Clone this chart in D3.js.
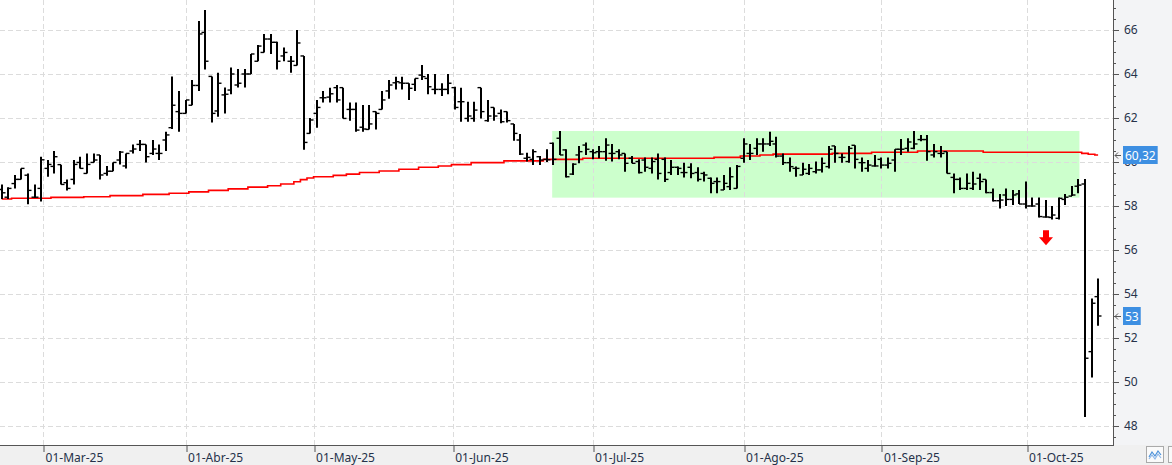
<!DOCTYPE html>
<html lang="en">
<head>
    <meta charset="UTF-8">
    <title>OHLC with moving average</title>
    <script src="https://d3js.org/d3.v7.min.js"></script>
    <style>
        body { margin: 0; background: #fff; }
        text { font-family: "Noto Sans", "DejaVu Sans", sans-serif; }
    </style>
</head>
<body>
    <svg width="1172" height="465"></svg>
    <script>
        const width = 1172, height = 465;
        const plotRight = 1113, plotBottom = 445;

        // daily bars (Feb-21-25 .. mid Oct-25)
        const open = [
            58.75, 58.4, 59.02, 59.21, 59.4, 58.4, 58.8, 59.71, 59.8, 59.88,
            59.06, 59.21, 59.98, 59.48, 59.98, 60.32, 59.48, 59.58, 60.09, 59.82,
            60.5, 60.8, 60.8, 60.39, 60.39, 61.0, 61.56, 62.29, 62.21, 62.58,
            63.48, 65.89, 63.89, 62.32, 63.05, 63.27, 63.5, 64.0, 64.0, 64.58,
            64.98, 65.59, 65.44, 64.82, 64.58, 64.39, 64.82, 61.3, 62.21, 62.92,
            62.95, 63.38, 63.38, 62.39, 62.39, 61.58, 61.48, 62.29, 62.39, 63.23,
            63.6, 63.6, 63.58, 63.53, 63.95, 63.8, 63.3, 63.3, 63.3, 63.38,
            62.74, 61.98, 61.98, 63.38, 61.88, 62.48, 62.21, 62.29, 61.73, 61.0,
            60.17, 60.12, 60.24, 60.12, 60.85, 61.08, 60.55, 59.45, 60.32, 60.77,
            60.47, 60.47, 60.47, 60.39, 60.47, 60.39, 60.17, 60.02, 60.09, 59.71,
            60.12, 60.12, 59.52, 59.76, 59.52, 59.76, 59.52, 59.48, 59.26, 59.11,
            58.73, 58.88, 58.8, 60.17, 60.39, 60.62, 60.82, 60.82, 60.82, 60.27,
            59.97, 59.71, 59.41, 59.48, 59.56, 59.64, 59.79, 60.73, 60.21, 60.02,
            60.76, 59.97, 59.71, 59.82, 60.12, 59.86, 60.09, 60.58, 60.62, 60.62,
            61.02, 61.02, 60.32, 60.39, 60.47, 59.3, 59.21, 58.8, 58.8, 59.26,
            59.21, 58.61, 58.24, 58.5, 58.3, 58.55, 58.09, 58.0, 58.09, 57.5,
            57.48, 57.44, 58.3, 58.45, 58.9, 59.0, 51.38, 53.88
        ];
        const high = [
            58.98, 58.85, 59.41, 59.71, 59.48, 58.98, 60.24, 60.09, 60.5, 59.88,
            59.21, 60.09, 60.24, 60.39, 60.39, 60.32, 59.82, 59.98, 60.5, 60.39,
            60.8, 61.0, 60.8, 61.0, 60.8, 61.38, 63.89, 63.23, 62.82, 63.73,
            66.41, 66.91, 63.89, 64.06, 63.39, 64.29, 64.23, 64.23, 64.91, 65.32,
            65.82, 65.82, 65.47, 65.21, 64.82, 66.0, 64.82, 62.0, 62.82, 63.23,
            63.38, 63.5, 63.38, 62.71, 62.71, 62.59, 62.59, 62.29, 63.23, 63.73,
            63.88, 63.88, 63.58, 63.8, 64.41, 64.0, 64.0, 63.58, 64.0, 63.42,
            63.38, 62.74, 62.74, 63.38, 62.82, 62.48, 62.39, 62.29, 61.73, 61.27,
            60.42, 60.58, 60.27, 60.58, 60.89, 61.41, 60.58, 59.94, 60.73, 60.89,
            60.58, 60.73, 61.08, 60.82, 60.58, 60.39, 60.27, 60.12, 60.21, 60.21,
            60.39, 60.21, 60.09, 59.79, 59.97, 59.94, 59.76, 59.56, 59.3, 59.3,
            59.41, 59.76, 59.86, 61.08, 60.82, 61.08, 61.08, 61.38, 61.15, 60.39,
            60.21, 59.79, 59.97, 59.91, 60.02, 60.21, 60.73, 60.73, 60.39, 60.73,
            60.76, 60.21, 60.09, 60.32, 60.21, 60.21, 60.58, 61.05, 61.08, 61.41,
            61.23, 61.23, 60.82, 60.73, 60.47, 59.48, 59.3, 59.48, 59.56, 59.48,
            59.21, 58.8, 58.55, 58.8, 58.73, 58.73, 59.11, 58.39, 58.39, 58.27,
            58.0, 58.39, 58.55, 58.91, 59.23, 59.23, 53.8, 54.71
        ];
        const low = [
            58.32, 58.32, 58.8, 59.21, 58.08, 58.38, 58.21, 59.33, 59.48, 58.98,
            58.71, 58.98, 59.71, 59.48, 59.98, 59.21, 59.38, 59.58, 59.89, 59.71,
            60.39, 60.5, 59.98, 60.32, 60.09, 60.5, 61.5, 61.38, 62.21, 62.58,
            63.23, 64.2, 61.79, 62.06, 62.21, 63.08, 63.39, 63.39, 64.0, 64.58,
            64.98, 64.91, 64.2, 64.58, 64.06, 64.39, 60.56, 61.3, 61.56, 62.71,
            62.71, 62.71, 61.98, 61.88, 61.38, 61.38, 61.48, 61.48, 62.39, 62.88,
            63.3, 63.3, 62.82, 63.23, 63.73, 63.08, 63.08, 63.0, 63.08, 62.39,
            61.83, 61.83, 61.83, 61.98, 61.83, 61.88, 61.76, 61.79, 60.97, 60.32,
            60.02, 59.86, 59.86, 60.0, 59.86, 60.32, 59.3, 59.41, 59.94, 60.32,
            60.12, 60.17, 60.06, 60.02, 60.12, 59.56, 59.94, 59.48, 59.56, 59.48,
            59.21, 59.09, 59.41, 59.41, 59.3, 59.26, 59.11, 59.11, 58.58, 58.58,
            58.73, 58.73, 58.8, 59.97, 60.09, 60.32, 60.47, 60.73, 60.21, 59.86,
            59.56, 59.33, 59.41, 59.41, 59.48, 59.52, 59.71, 59.97, 59.97, 59.97,
            59.71, 59.56, 59.56, 59.79, 59.71, 59.71, 59.56, 60.32, 60.47, 60.58,
            60.94, 60.06, 60.21, 60.21, 59.48, 58.58, 58.73, 58.73, 58.73, 58.73,
            58.58, 58.2, 57.89, 58.0, 58.05, 58.09, 57.89, 57.97, 57.48, 57.48,
            57.39, 57.39, 58.05, 58.45, 58.58, 48.41, 50.2, 52.56
        ];
        const close = [
            58.6, 58.8, 59.21, 59.71, 58.71, 58.4, 60.1, 59.89, 60.24, 58.98,
            58.8, 59.89, 59.71, 59.89, 60.09, 59.41, 59.58, 59.98, 60.45, 60.39,
            60.59, 60.8, 60.24, 60.59, 60.39, 61.23, 62.58, 62.21, 62.82, 63.48,
            65.82, 64.58, 62.21, 63.58, 63.08, 64.0, 63.58, 64.0, 64.91, 65.27,
            65.59, 65.44, 64.58, 64.98, 64.58, 65.41, 60.89, 61.91, 62.48, 62.92,
            63.1, 62.82, 61.98, 62.39, 61.45, 61.5, 61.73, 62.21, 62.82, 63.5,
            63.65, 63.58, 63.35, 63.8, 63.88, 63.42, 63.3, 63.3, 63.58, 62.48,
            62.74, 62.09, 62.36, 62.29, 62.09, 62.09, 61.83, 61.88, 61.3, 60.36,
            60.21, 60.47, 60.09, 60.1, 60.12, 60.32, 59.33, 59.9, 60.47, 60.58,
            60.42, 60.47, 60.77, 60.39, 60.32, 59.94, 59.94, 59.52, 59.76, 60.02,
            59.48, 59.21, 59.76, 59.71, 59.52, 59.48, 59.21, 59.41, 59.03, 59.11,
            59.03, 59.33, 59.8, 60.82, 60.39, 60.82, 60.82, 60.94, 60.27, 59.97,
            59.79, 59.71, 59.67, 59.71, 59.64, 59.94, 60.58, 60.39, 60.21, 60.62,
            60.12, 59.97, 59.86, 59.82, 59.86, 59.94, 60.58, 60.58, 60.91, 60.82,
            61.02, 60.47, 60.47, 60.39, 59.48, 59.21, 58.8, 59.03, 59.0, 59.11,
            58.61, 58.24, 58.27, 58.3, 58.5, 58.09, 58.0, 58.0, 57.52, 57.5,
            57.59, 58.35, 58.4, 58.5, 58.95, 51.08, 53.58, 53.0
        ];
        // moving average, one value per bar
        const ma = [
            58.32, 58.32, 58.35, 58.35, 58.35, 58.35, 58.35, 58.35, 58.39, 58.39,
            58.39, 58.39, 58.39, 58.42, 58.42, 58.42, 58.42, 58.47, 58.47, 58.47,
            58.47, 58.47, 58.53, 58.53, 58.53, 58.53, 58.58, 58.58, 58.58, 58.64,
            58.64, 58.64, 58.71, 58.71, 58.71, 58.78, 58.78, 58.78, 58.86, 58.86,
            58.86, 58.92, 58.92, 59.0, 59.0, 59.1, 59.2, 59.27, 59.33, 59.33,
            59.33, 59.39, 59.39, 59.45, 59.45, 59.52, 59.52, 59.52, 59.59, 59.59,
            59.59, 59.67, 59.67, 59.67, 59.76, 59.76, 59.76, 59.82, 59.82, 59.88,
            59.88, 59.88, 59.97, 59.97, 59.97, 59.97, 59.97, 60.05, 60.05, 60.05,
            60.05, 60.05, 60.05, 60.12, 60.12, 60.12, 60.12, 60.12, 60.12, 60.17,
            60.17, 60.17, 60.17, 60.17, 60.17, 60.17, 60.17, 60.17, 60.17, 60.17,
            60.17, 60.17, 60.17, 60.17, 60.17, 60.17, 60.17, 60.17, 60.17, 60.21,
            60.21, 60.21, 60.21, 60.27, 60.27, 60.27, 60.32, 60.32, 60.36, 60.36,
            60.36, 60.36, 60.36, 60.36, 60.36, 60.36, 60.36, 60.39, 60.39, 60.39,
            60.39, 60.39, 60.39, 60.44, 60.44, 60.44, 60.44, 60.44, 60.44, 60.44,
            60.5, 60.5, 60.5, 60.5, 60.5, 60.5, 60.5, 60.5, 60.5, 60.5,
            60.44, 60.44, 60.44, 60.44, 60.44, 60.44, 60.44, 60.44, 60.44, 60.44,
            60.44, 60.44, 60.44, 60.44, 60.44, 60.39, 60.35, 60.32
        ];

        // month ticks, placed by bar index
        const monthLabels = ["01-Mar-25", "01-Abr-25", "01-May-25", "01-Jun-25", "01-Jul-25", "01-Ago-25", "01-Sep-25", "01-Oct-25"];
        const monthIndex = [6.3, 28, 47.5, 68.7, 90, 113, 134, 156.1];

        const yLabels = [48, 50, 52, 54, 56, 58, 60, 62, 64, 66];
        const yMinor = d3.range(47.5, 67.01, 0.5);

        // sideways range box (bar index from / to, price top / bottom) and signal arrow
        const zoneIndex = [84, 164];
        const zonePrice = [61.41, 58.38];
        const arrowIndex = 159, arrowPrice = 56.9;

        const x = d3.scaleLinear().domain([0, 167]).range([1.7, 1098.1]);
        const y = d3.scaleLinear().domain([48, 66]).range([426, 30]);

        const svg = d3.select("svg");

        // panels
        svg.append("rect").attr("x", plotRight).attr("y", 0)
            .attr("width", width - plotRight).attr("height", plotBottom).attr("fill", "#f3f4f6");
        svg.append("rect").attr("x", 0).attr("y", plotBottom)
            .attr("width", width).attr("height", height - plotBottom).attr("fill", "#f0f0f0");

        // range box
        svg.append("rect")
            .attr("x", x(zoneIndex[0]) - 1)
            .attr("y", y(zonePrice[0]))
            .attr("width", x(zoneIndex[1]) - x(zoneIndex[0]) + 2)
            .attr("height", y(zonePrice[1]) - y(zonePrice[0]))
            .attr("fill", "#ccffcc");

        // grid
        const grid = svg.append("g").attr("stroke", "#dcdcdc").attr("stroke-dasharray", "5,3").attr("shape-rendering", "crispEdges");
        grid.selectAll("line.h").data(yLabels).join("line")
            .attr("x1", 0).attr("x2", plotRight)
            .attr("y1", d => Math.round(y(d)) + 0.5).attr("y2", d => Math.round(y(d)) + 0.5);
        grid.selectAll("line.v").data(monthIndex).join("line")
            .attr("x1", d => Math.round(x(d)) + 0.5).attr("x2", d => Math.round(x(d)) + 0.5)
            .attr("y1", 0).attr("y2", plotBottom);

        // moving average
        const maLine = d3.line()
            .x((d, i) => x(i))
            .y(d => y(d))
            .curve(d3.curveStep);
        svg.append("path")
            .datum(ma)
            .attr("d", maLine)
            .attr("fill", "none")
            .attr("stroke", "#ff0000")
            .attr("stroke-width", 1.6);

        // OHLC bars
        const bars = svg.append("g").attr("stroke", "#000");
        const idx = d3.range(open.length);
        bars.selectAll("line.hl").data(idx).join("line")
            .attr("x1", i => Math.round(x(i))).attr("x2", i => Math.round(x(i)))
            .attr("y1", i => y(high[i])).attr("y2", i => y(low[i]))
            .attr("stroke-width", 2);
        bars.selectAll("line.o").data(idx).join("line")
            .attr("x1", i => Math.round(x(i)) - 3.5).attr("x2", i => Math.round(x(i)))
            .attr("y1", i => y(open[i])).attr("y2", i => y(open[i]))
            .attr("stroke-width", 1.4);
        bars.selectAll("line.c").data(idx).join("line")
            .attr("x1", i => Math.round(x(i))).attr("x2", i => Math.round(x(i)) + 3.5)
            .attr("y1", i => y(close[i])).attr("y2", i => y(close[i]))
            .attr("stroke-width", 1.4);

        // red down arrow
        const ax = Math.round(x(arrowIndex)), ay = y(arrowPrice);
        svg.append("path")
            .attr("d", `M${ax - 3},${ay} H${ax + 3} V${ay + 7} H${ax + 7} L${ax},${ay + 15} L${ax - 7},${ay + 7} H${ax - 3} Z`)
            .attr("fill", "#ff0000");

        // right axis
        svg.append("g")
            .attr("transform", `translate(${plotRight},0)`)
            .call(d3.axisRight(y).tickValues(yMinor).tickSize(3).tickFormat(""))
            .call(g => g.select(".domain").remove())
            .call(g => g.selectAll("line").attr("stroke", "#555"));
        svg.append("g")
            .attr("transform", `translate(${plotRight},0)`)
            .call(d3.axisRight(y).tickValues(yLabels).tickSize(6).tickPadding(5).tickFormat(d3.format("d")))
            .call(g => g.select(".domain").remove())
            .call(g => g.selectAll("line").attr("stroke", "#555"))
            .call(g => g.selectAll("text").attr("fill", "#26324a").attr("font-size", 12)
                .attr("font-family", "'Noto Sans', sans-serif"));
        svg.append("line")
            .attr("x1", plotRight + 0.5).attr("x2", plotRight + 0.5)
            .attr("y1", 0).attr("y2", plotBottom)
            .attr("stroke", "#555");

        // bottom axis
        const xAxis = svg.append("g")
            .attr("transform", `translate(0,${plotBottom})`)
            .call(d3.axisBottom(x).tickValues(monthIndex).tickSize(7)
                .tickFormat((d, i) => monthLabels[i]))
            .call(g => g.select(".domain").remove());
        xAxis.selectAll(".tick line").attr("stroke", "#555")
            .attr("transform", d => `translate(${Math.round(x(d)) + 0.5 - x(d)},0)`);
        xAxis.selectAll(".tick text")
            .attr("text-anchor", "start").attr("x", 2).attr("y", 8)
            .attr("fill", "#26324a").attr("font-size", 12)
            .attr("font-family", "'Noto Sans', sans-serif");
        svg.append("line")
            .attr("x1", 0).attr("x2", plotRight + 1)
            .attr("y1", plotBottom + 0.5).attr("y2", plotBottom + 0.5)
            .attr("stroke", "#555");

        // value badges for last MA and last close
        const fmt = v => String(+v.toFixed(2)).replace(".", ",");
        const badges = [ma[ma.length - 1], close[close.length - 1]];
        badges.forEach(v => {
            const by = Math.round(y(v));
            const g = svg.append("g");
            const t = g.append("text")
                .attr("x", plotRight + 12).attr("y", by + 4.5)
                .attr("fill", "#fff").attr("font-size", 12)
                .text(fmt(v));
            const w = t.node().getComputedTextLength();
            g.insert("rect", "text")
                .attr("x", plotRight + 10).attr("y", by - 9)
                .attr("width", w + 4).attr("height", 18)
                .attr("fill", "#3d8fe2");
            g.append("path")
                .attr("d", `M${plotRight + 8},${by + 0.5} H${plotRight + 2} M${plotRight + 5},${by - 2.5} L${plotRight + 2},${by + 0.5} L${plotRight + 5},${by + 3.5}`)
                .attr("fill", "none").attr("stroke", "#555");
        });

        // small button in the corner
        svg.append("rect").attr("x", 1146.5).attr("y", 446.5).attr("width", 17).attr("height", 16)
            .attr("fill", "#fafafa").attr("stroke", "#aaa");
        svg.append("path").attr("d", "M1149,457 L1152,452 L1155,456 L1158,451 L1161,455")
            .attr("fill", "none").attr("stroke", "#4a90d9").attr("stroke-width", 1.2);
        svg.append("path").attr("d", "M1149,459 L1152,455 L1155,459 L1158,454 L1161,458")
            .attr("fill", "none").attr("stroke", "#8fb8e8").attr("stroke-width", 1.2);
        svg.append("rect").attr("x", 1168.5).attr("y", 446.5).attr("width", 10).attr("height", 16)
            .attr("fill", "#fafafa").attr("stroke", "#aaa");
    </script>
</body>
</html>
